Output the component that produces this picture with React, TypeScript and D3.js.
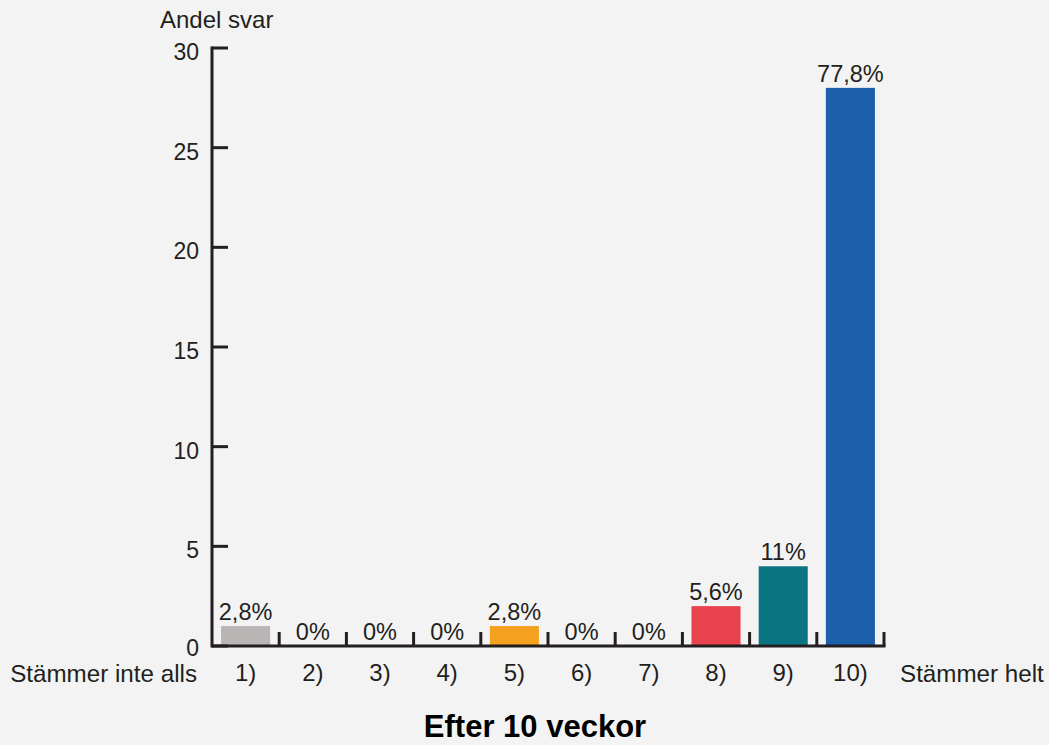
import * as d3 from "d3";

const categories = ["1)", "2)", "3)", "4)", "5)", "6)", "7)", "8)", "9)", "10)"];
const counts = [1, 0, 0, 0, 1, 0, 0, 2, 4, 28];
const percentLabels = ["2,8%", "0%", "0%", "0%", "2,8%", "0%", "0%", "5,6%", "11%", "77,8%"];
const barColors = [
  "#bab5b5",
  "#bab5b5",
  "#bab5b5",
  "#bab5b5",
  "#f4a11f",
  "#e8424e",
  "#e8424e",
  "#e8424e",
  "#0a7482",
  "#1c5fab",
];
const yTicks = [0, 5, 10, 15, 20, 25, 30];

const W = 1049;
const H = 745;
const FONT = "'Liberation Sans', Arial, Helvetica, sans-serif";
const INK = "#231f20";

export default function App() {
  const x0 = 212;
  const x1 = 884;
  const yBase = 646;
  const yTop = 48;

  const xScale = d3
    .scaleBand()
    .domain(categories)
    .range([x0, x1])
    .paddingInner(0.27)
    .paddingOuter(0.135);

  const yScale = d3.scaleLinear().domain([0, 30]).range([yBase, yTop]);
  const step = xScale.step();

  return (
    <svg
      width={W}
      height={H}
      style={{ position: "absolute", left: 0, top: 0, background: "#f3f3f3" }}
      fontFamily={FONT}
    >
      <rect x={0} y={0} width={W} height={H} fill="#f3f3f3" />

      {/* bars */}
      {categories.map((c, i) =>
        counts[i] > 0 ? (
          <rect
            key={`bar-${c}`}
            x={xScale(c)}
            y={yScale(counts[i])}
            width={xScale.bandwidth()}
            height={yBase - yScale(counts[i])}
            fill={barColors[i]}
          />
        ) : null
      )}

      {/* value labels */}
      {categories.map((c, i) => (
        <text
          key={`val-${c}`}
          x={(xScale(c) || 0) + xScale.bandwidth() / 2}
          y={yScale(counts[i]) - 6}
          textAnchor="middle"
          fontSize={23.5}
          fill={INK}
        >
          {percentLabels[i]}
        </text>
      ))}

      {/* y axis */}
      <line x1={x0} x2={x0} y1={yTop - 1.5} y2={yBase + 1.5} stroke={INK} strokeWidth={3} />
      {yTicks.map((t) => (
        <g key={`yt-${t}`}>
          <line x1={x0} x2={x0 + 16} y1={yScale(t)} y2={yScale(t)} stroke={INK} strokeWidth={3} />
          <text
            x={x0 - 13}
            y={yScale(t) + (t === 0 ? 2 : 4)}
            textAnchor="end"
            dominantBaseline="central"
            fontSize={23}
            fill={INK}
          >
            {t}
          </text>
        </g>
      ))}

      {/* x axis */}
      <line x1={x0} x2={x1 + 1.5} y1={yBase} y2={yBase} stroke={INK} strokeWidth={3} />
      {categories.map((c, i) => {
        const xt = x0 + step * (i + 1);
        return (
          <line
            key={`xt-${c}`}
            x1={xt}
            x2={xt}
            y1={yBase}
            y2={yBase - 14}
            stroke={INK}
            strokeWidth={3}
          />
        );
      })}

      {/* category labels */}
      {categories.map((c) => (
        <text
          key={`cat-${c}`}
          x={(xScale(c) || 0) + xScale.bandwidth() / 2}
          y={681}
          textAnchor="middle"
          fontSize={24}
          fill={INK}
        >
          {c}
        </text>
      ))}

      <text x={197} y={682} textAnchor="end" fontSize={24.2} fill={INK}>
        Stämmer inte alls
      </text>
      <text x={900} y={682} textAnchor="start" fontSize={24.2} fill={INK}>
        Stämmer helt
      </text>

      <text x={160} y={28} fontSize={24} fill={INK}>
        Andel svar
      </text>

      <text x={535} y={737} textAnchor="middle" fontSize={31} fontWeight="bold" fill="#000">
        Efter 10 veckor
      </text>
    </svg>
  );
}
